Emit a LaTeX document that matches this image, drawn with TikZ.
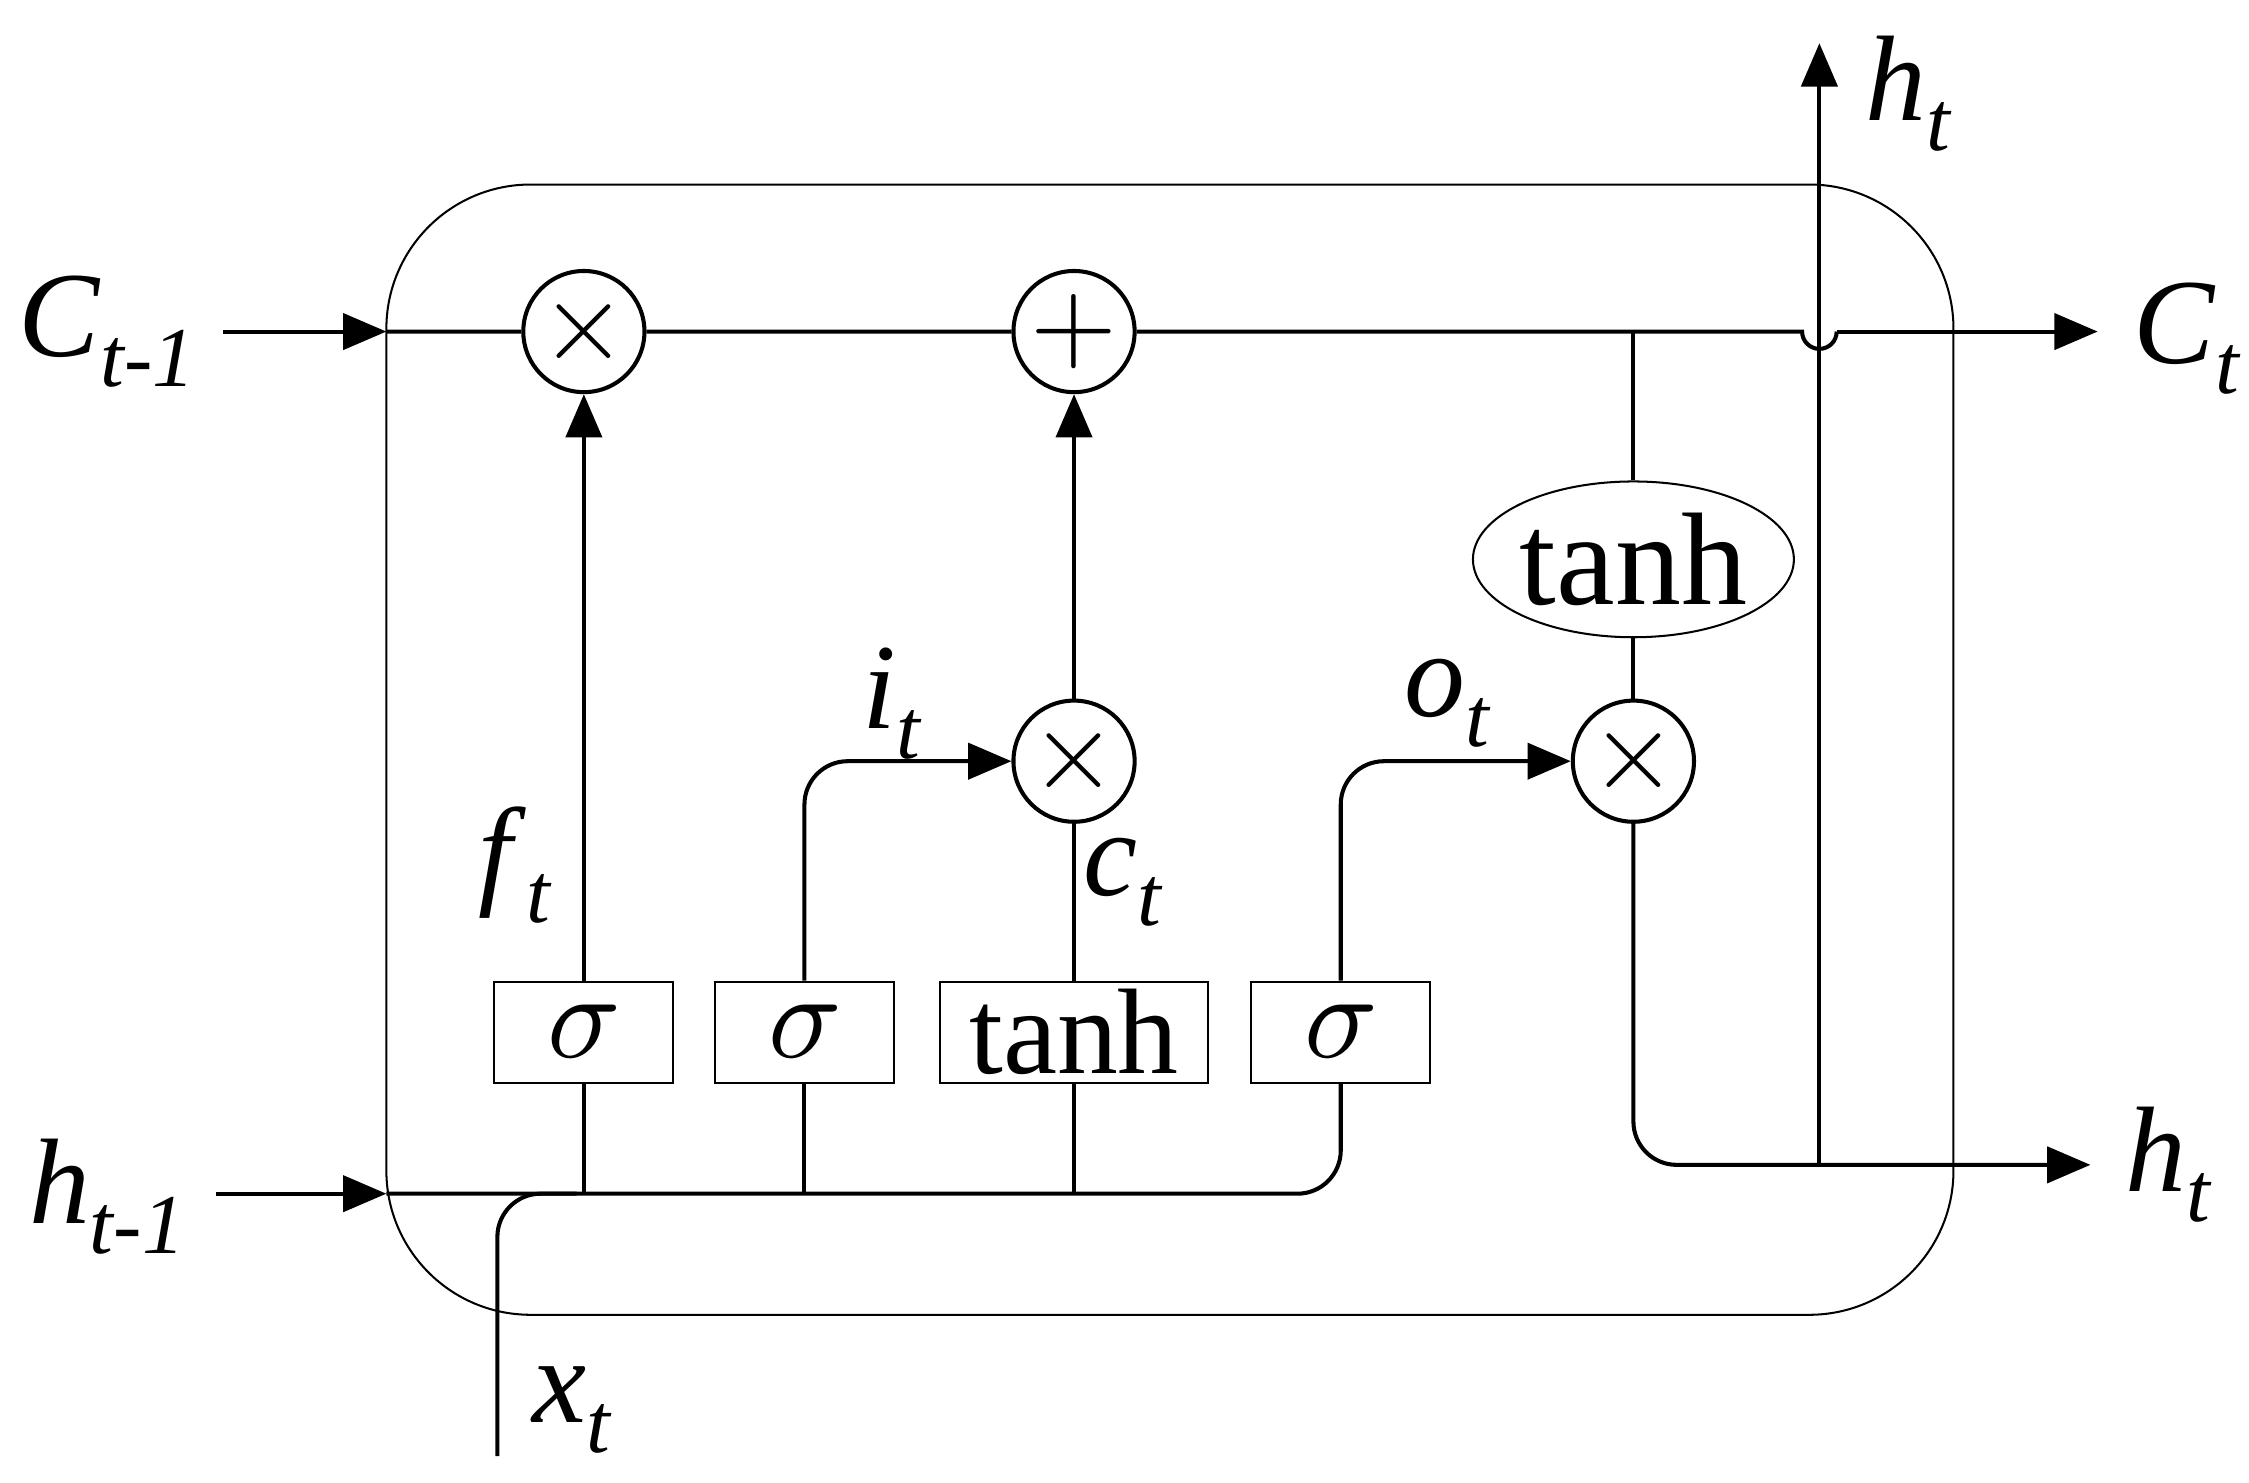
\documentclass[tikz,border=0pt]{standalone}
\usepackage{fontspec}
\setmainfont{Liberation Serif}
\usepackage{unicode-math}
\setmathfont{Latin Modern Math}
\usetikzlibrary{arrows.meta,shapes.geometric}
\newcommand{\sub}[2]{\textit{#1}\textsubscript{\textit{#2}}}
\tikzset{
  op/.style={circle,draw,thick,minimum size=0.84cm,inner sep=0pt,font=\fontsize{22}{24}\selectfont},
  gate/.style={draw,minimum height=0.7cm,inner sep=0pt,font=\fontsize{24}{26}\selectfont},
  lbl/.style={font=\fontsize{24}{26}\selectfont},
  arr/.style={-{Triangle[length=0.3cm,width=0.25cm]}},
  wire/.style={thick,rounded corners=0.3cm}
}
\begin{document}
\begin{tikzpicture}[x=0.01cm,y=-0.01cm]
  \useasboundingbox (0,0) rectangle (1560,1028);
  \draw[rounded corners=1cm] (268,128) rectangle (1355,912);
  % operators
  \node[op] (fmul) at (405,230) {$\times$};
  \node[op] (add) at (745,230) {$+$};
  \node[op] (imul) at (745,528) {$\times$};
  \node[op] (omul) at (1133,528) {$\times$};
  \node[ellipse,draw,minimum width=2.08cm,minimum height=1.08cm,inner sep=0pt,font=\fontsize{26}{28}\selectfont] (ctanh) at (1133,388) {tanh};
  \node[gate,minimum width=1.24cm] (fg) at (405,716) {$\sigma$};
  \node[gate,minimum width=1.24cm] (ig) at (558,716) {$\sigma$};
  \node[gate,minimum width=1.86cm] (cg) at (745,716) {tanh};
  \node[gate,minimum width=1.24cm] (og) at (930,716) {$\sigma$};
  % labels
  \node[lbl] (cin) at (75,230) {\sub{C}{t-1}};
  \node[lbl] (cout) at (1518,235) {\sub{C}{t}};
  \node[lbl] (hin) at (75,830) {\sub{h}{t-1}};
  \node[lbl] (hout) at (1505,808) {\sub{h}{t}};
  \node[lbl] (htop) at (1325,65) {\sub{h}{t}};
  \node[lbl] (xin) at (398,978) {\sub{x}{t}};
  \node[lbl] at (358,600) {\sub{f}{t}};
  \node[lbl] at (620,488) {\sub{i}{t}};
  \node[lbl] at (780,612) {\sub{c}{t}};
  \node[lbl] at (1005,488) {\sub{o}{t}};
  \coordinate (cl) at (268,230);
  \coordinate (hl) at (268,828);
  % cell state
  \draw[thick,arr] (155,230) -- (cl);
  \draw[thick,arr] (150,828) -- (hl);
  \draw[thick] (cl) -- (fmul) -- (add) -- (1250,230) arc (180:0:12) -- (1274,230);
  \draw[thick,arr] (1274,230) -- (1455,230);
  % input lines
  \draw[wire] (hl) -- (930,828) -- (og);
  \draw[wire] (345,1010) -- (345,828) -- (400,828);
  \draw[thick] (405,828) -- (fg);
  \draw[thick] (558,828) -- (ig);
  \draw[thick] (745,828) -- (cg);
  % gates
  \draw[thick,arr] (fg) -- (fmul);
  \draw[wire,arr] (ig.north) -- (558,528) -- (imul);
  \draw[thick] (cg) -- (imul);
  \draw[thick,arr] (imul) -- (add);
  \draw[wire,arr] (og.north) -- (930,528) -- (omul);
  \draw[thick] (1133,230) -- (ctanh) -- (omul);
  \draw[wire,arr] (omul) -- (1133,808) -- (1450,808);
  \draw[thick,arr] (1262,808) -- (1262,30);
\end{tikzpicture}
\end{document}
